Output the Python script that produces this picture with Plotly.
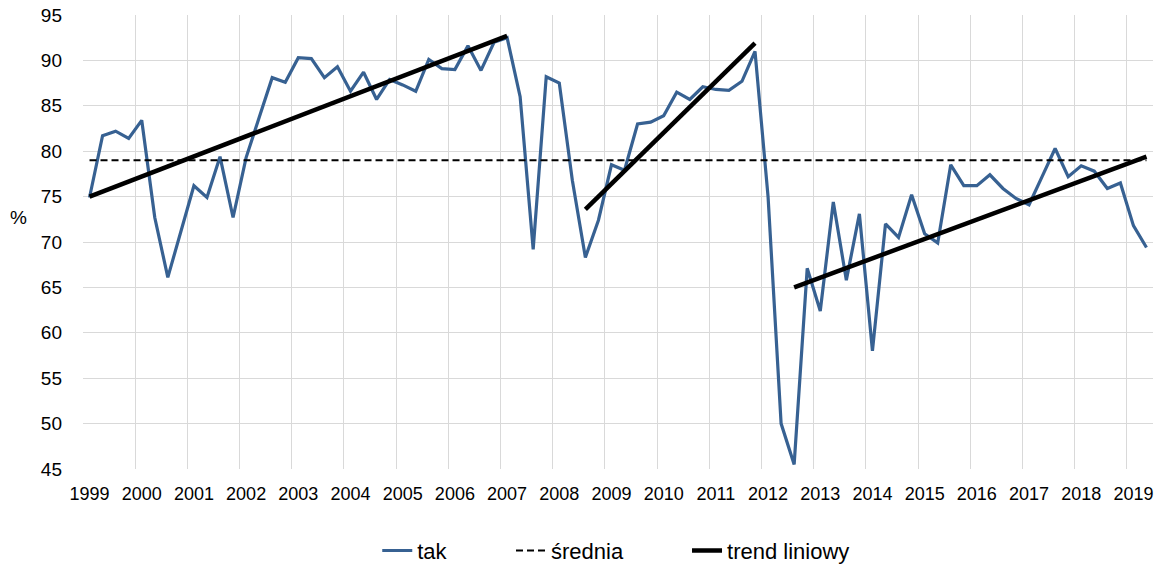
import plotly.graph_objects as go

# Quarterly share of "tak" answers, 1999 Q1 - 2019 Q2 (%)
tak = [
    74.9, 81.7, 82.2, 81.4,   # 1999
    83.4, 72.7, 66.1, 71.0,   # 2000
    76.2, 74.9, 79.4, 72.7,   # 2001
    79.3, 83.7, 88.1, 87.6,   # 2002
    90.3, 90.2, 88.1, 89.3,   # 2003
    86.6, 88.7, 85.7, 87.9,   # 2004
    87.3, 86.6, 90.1, 89.1,   # 2005
    89.0, 91.6, 88.9, 92.0,   # 2006
    92.5, 86.0, 69.2, 88.2,   # 2007
    87.5, 76.8, 68.3, 72.4,   # 2008
    78.5, 77.9, 83.0, 83.2,   # 2009
    83.9, 86.5, 85.7, 87.1,   # 2010
    86.8, 86.7, 87.7, 91.0,   # 2011
    75.0, 50.0, 45.5, 67.1,   # 2012
    62.4, 74.4, 65.8, 73.1,   # 2013
    58.0, 72.0, 70.5, 75.2,   # 2014
    70.9, 69.9, 78.5, 76.2,   # 2015
    76.2, 77.4, 75.9, 74.8,   # 2016
    74.1, 77.2, 80.3, 77.2,   # 2017
    78.4, 77.8, 75.9, 76.5,   # 2018
    71.8, 69.4,               # 2019
]

srednia_value = 79.0

# Linear trend segments: (first quarter index, last quarter index, start value, end value)
trend_start_idx = [0, 38, 54]
trend_end_idx = [32, 51, 81]
trend_start_val = [75.0, 73.6, 65.0]
trend_end_val = [92.7, 91.9, 79.4]

years = [str(y) for y in range(1999, 2020)]

n = len(tak)
quarters = list(range(n))
srednia = [srednia_value] * n

# All trend segments in one trace, separated by None gaps
trend_x = []
trend_y = []
for s, e, vs, ve in zip(trend_start_idx, trend_end_idx, trend_start_val, trend_end_val):
    trend_x += [s, e, None]
    trend_y += [vs, ve, None]

FONT = "Liberation Sans, Arial, sans-serif"
GRID = "#D9D9D9"

fig = go.Figure()
fig.add_trace(go.Scatter(
    x=quarters, y=tak, mode="lines", name="tak",
    line=dict(color="#376192", width=3.2), legend="legend",
))
fig.add_trace(go.Scatter(
    x=quarters, y=srednia, mode="lines", name="średnia",
    line=dict(color="black", width=2, dash="7px,4px"), legend="legend2",
))
fig.add_trace(go.Scatter(
    x=trend_x, y=trend_y, mode="lines", name="trend liniowy",
    line=dict(color="black", width=4.5), connectgaps=False, legend="legend3",
))

# Each legend entry sits in its own legend box along the bottom row
def legend_box(x):
    return dict(
        orientation="h", x=x, xanchor="left", y=-0.18, yanchor="middle",
        font=dict(size=22), bgcolor="rgba(0,0,0,0)",
    )

fig.update_layout(
    width=1163, height=570,
    margin=dict(l=83, r=10, t=15, b=101, autoexpand=False),
    paper_bgcolor="white", plot_bgcolor="white",
    font=dict(family=FONT, color="black", size=18),
    showlegend=True,
    legend=legend_box(0.275),
    legend2=legend_box(0.400),
    legend3=legend_box(0.5645),
    xaxis=dict(
        range=[-0.5, n - 0.5],
        tickmode="array",
        tickvals=list(range(0, n, 4)),
        ticktext=years,
        showgrid=False, zeroline=False, showline=False, ticks="",
        ticklabelstandoff=12,
        minor=dict(tick0=-0.5, dtick=4, showgrid=True, gridcolor=GRID, gridwidth=1.3, ticks=""),
        tickfont=dict(size=18),
    ),
    yaxis=dict(
        range=[45, 95], dtick=5, tick0=45,
        showgrid=True, gridcolor=GRID, gridwidth=1.3,
        zeroline=False, showline=False, ticks="",
        ticklabelstandoff=20,
        tickfont=dict(size=19),
    ),
    annotations=[dict(
        text="%", xref="paper", yref="paper", x=-0.06, y=0.555,
        xanchor="center", yanchor="middle", showarrow=False,
        font=dict(size=19),
    )],
)

fig.write_html("out.html")
